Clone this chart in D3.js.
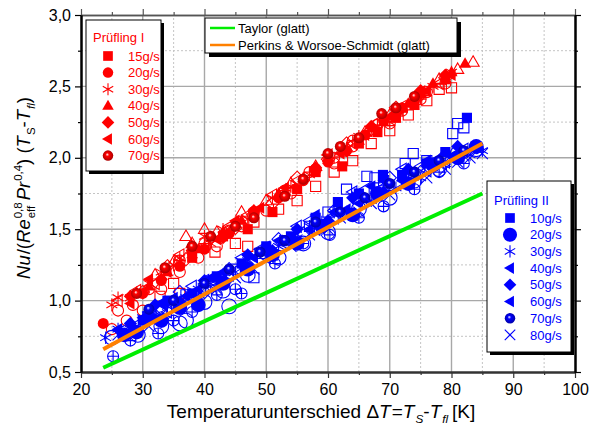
<!DOCTYPE html>
<html>
<head>
<meta charset="utf-8">
<script src="https://cdn.jsdelivr.net/npm/d3@7"></script>
<style>
  body { margin: 0; background: #fff; }
  svg { font-family: "Liberation Sans", Arial, sans-serif; }
</style>
</head>
<body>
<svg id="chart" width="590" height="430"></svg>
<script>
// axis ticks
const X_TICKS = [20, 30, 40, 50, 60, 70, 80, 90, 100];
const X_MINOR = [25, 35, 45, 55, 65, 75, 85, 95];
const Y_TICKS = [0.5, 1.0, 1.5, 2.0, 2.5, 3.0];
const Y_MINOR = [0.75, 1.25, 1.75, 2.25, 2.75];

// correlation lines
const TAYLOR = [[23.6, 0.53], [85, 1.75]];
const PERKINS = [[23.6, 0.66], [85, 2.10]];

// Prüfling I  [dT, value]
const I_LABELS = ['15g/s', '20g/s', '30g/s', '40g/s', '50g/s', '60g/s', '70g/s'];
const I_SHAPES = ['square', 'circle', 'asterisk', 'triUp', 'diamond', 'triLeft', 'sphere'];
const I15_FILLED = [[38, 1.30], [43, 1.45], [47, 1.50], [51, 1.62], [55, 1.78], [58, 1.90], [62.3, 1.94], [65, 2.10], [68, 2.18], [71, 2.28], [74, 2.37], [79, 2.55]];
const I15_OPEN = [[32.8, 1.03], [35, 1.12], [36, 1.05], [41.7, 1.34], [45, 1.40], [47, 1.38], [48, 1.55], [52, 1.64], [55, 1.70], [58, 1.80], [61, 1.90], [64, 1.98], [67, 2.10], [70, 2.19], [73, 2.30], [76, 2.40], [78, 2.48], [80, 2.49]];
const I20_FILLED = [[23.6, 0.84], [30, 1.05], [33, 1.14], [36, 1.24], [40, 1.36], [44, 1.47], [48, 1.60], [52, 1.72], [56, 1.84], [60, 1.97], [63, 2.05], [66, 2.16], [69, 2.26], [72, 2.35], [75, 2.45]];
const I20_OPEN = [[25, 0.80], [26, 0.93], [27.4, 0.86], [28.4, 0.97], [30, 0.93], [33, 1.08], [36, 1.20], [39, 1.30], [42, 1.38], [46, 1.52], [50, 1.63], [54, 1.75], [58, 1.92], [61, 1.96], [64, 2.08], [70, 2.24], [76, 2.46], [79, 2.52]];
const I30_FILLED = [[25, 0.97], [26, 1.02], [28, 1.02], [31, 1.12], [33, 1.20], [35, 1.25], [36, 1.30], [38, 1.32], [40, 1.45], [41, 1.40], [43, 1.50], [45, 1.53], [47, 1.57], [48, 1.62], [51, 1.72], [54, 1.80], [57, 1.88], [60, 1.98], [63, 2.07], [65, 2.15], [67, 2.19], [70, 2.25], [72, 2.34], [75, 2.44], [77, 2.50], [80, 2.60]];
const I30_OPEN = [];
const I40_FILLED = [[31, 1.10], [34, 1.20], [39, 1.36], [43, 1.48], [46, 1.56], [52, 1.75], [56, 1.86], [60, 2.00], [65, 2.12], [69, 2.25], [73, 2.38], [77, 2.52], [80, 2.60], [82.2, 2.66]];
const I40_OPEN = [[29, 1.05], [32, 1.18], [35, 1.27], [37, 1.45], [38, 1.40], [40, 1.50], [42, 1.48], [46, 1.62], [50, 1.70], [54, 1.82], [58, 1.94], [62, 2.04], [66, 2.18], [70, 2.30], [74, 2.42], [78, 2.55], [81, 2.62], [83.5, 2.67]];
const I50_FILLED = [[28, 1.03], [33, 1.15], [38, 1.35], [43, 1.44], [48, 1.63], [53, 1.74], [58, 1.93], [63, 2.05], [67, 2.22], [71, 2.31], [75, 2.47], [79, 2.58]];
const I50_OPEN = [[30, 1.06], [34, 1.24], [37, 1.29], [41, 1.44], [45, 1.51], [51, 1.68], [55, 1.86], [60, 1.99], [63, 2.10], [67, 2.20], [71, 2.35], [75, 2.44], [79, 2.56]];
const I60_FILLED = [[28, 0.98], [31, 1.15], [34, 1.20], [38, 1.34], [42, 1.43], [45, 1.56], [49, 1.65], [53, 1.79], [58, 1.91], [62, 2.03], [66, 2.16], [70, 2.29], [76, 2.47], [80, 2.58]];
const I60_OPEN = [[26, 1.00], [29, 1.07], [32, 1.12], [36, 1.32], [40, 1.38], [44, 1.52], [47, 1.60], [51, 1.74], [55, 1.84], [60, 2.02], [64, 2.10], [68, 2.25], [72, 2.36], [75, 2.46], [78, 2.52]];
const I70_FILLED = [[29, 1.05], [33.6, 1.23], [38, 1.38], [41, 1.45], [45, 1.52], [48, 1.58], [53, 1.73], [56, 1.85], [60, 2.03], [62, 2.08], [65, 2.14], [68.7, 2.31], [71, 2.35], [74, 2.43]];
const I70_OPEN = [[31, 1.08], [36, 1.28], [40, 1.40], [44, 1.49], [48, 1.62], [53, 1.77], [57, 1.90], [61, 2.00], [64, 2.12], [68, 2.23], [72, 2.33], [75, 2.41]];

// Prüfling II
const II_LABELS = ['10g/s', '20g/s', '30g/s', '40g/s', '50g/s', '60g/s', '70g/s', '80g/s'];
const II_SHAPES = ['square', 'bigCircle', 'asterisk', 'triLeft', 'diamond', 'triLeft', 'sphere', 'x'];
const II10_FILLED = [[30, 0.86], [34, 1.00], [38, 1.05], [42, 1.17], [46, 1.26], [50, 1.38], [54, 1.45], [58, 1.58], [61.6, 1.69], [65, 1.75], [68.9, 1.88], [72, 1.88], [76, 1.96], [79, 2.04], [82.5, 2.28]];
const II10_OPEN = [[33, 0.93], [37, 1.04], [41, 1.10], [45, 1.22], [48, 1.16], [49, 1.33], [53, 1.42], [57, 1.52], [60, 1.62], [63, 1.78], [66.3, 1.87], [67.6, 1.86], [69, 1.84], [72.5, 1.96], [73.8, 2.03], [76, 1.98], [80.2, 2.17], [81, 2.24], [82, 2.21]];
const II20_FILLED = [[27, 0.76], [29, 0.78], [31, 0.88], [33, 0.86], [36, 0.95], [39, 0.97], [43, 1.12], [47, 1.22], [51, 1.32], [55, 1.40], [59, 1.52], [64, 1.60], [68, 1.75], [73, 1.82], [77, 1.95], [81, 2.00], [84, 2.08]];
const II20_OPEN = [[25, 0.74], [29.2, 0.76], [33, 0.82], [36, 0.84], [37, 0.86], [40, 0.99], [43, 1.07], [44, 0.96], [47, 1.18], [52, 1.30], [56, 1.40], [60, 1.48], [65, 1.64], [70, 1.72], [74, 1.84], [78, 1.92], [81, 2.03], [84, 2.06]];
const II30_FILLED = [[24, 0.74], [26, 0.80], [28, 0.80], [30, 0.88], [32, 0.90], [34, 0.96], [37, 1.02], [39, 1.08], [41, 1.10], [43, 1.16], [45, 1.20], [47, 1.28], [50, 1.34], [52, 1.38], [55, 1.44], [57, 1.52], [59, 1.55], [61, 1.62], [63, 1.62], [65, 1.72], [67, 1.70], [69, 1.82], [71, 1.79], [73, 1.90], [75, 1.86], [77, 1.94], [79, 1.96], [81, 2.00], [83, 2.02], [85, 2.05]];
const II30_OPEN = [];
const II40_FILLED = [[26, 0.80], [31, 0.90], [35, 1.02], [39, 1.08], [43, 1.20], [48, 1.30], [52, 1.42], [57, 1.50], [61, 1.62], [65, 1.68], [69, 1.84], [74, 1.88], [78, 2.00], [82, 2.04]];
const II40_OPEN = [[29, 0.83], [33, 0.98], [35, 0.96], [40, 1.14], [44, 1.18], [49, 1.36], [53, 1.40], [57, 1.56], [61, 1.58], [66, 1.78], [70, 1.80], [75, 1.94], [79, 1.97]];
const II50_FILLED = [[28, 0.84], [32, 0.97], [36, 0.99], [40, 1.14], [43, 1.13], [47, 1.32], [51, 1.35], [55, 1.50], [60, 1.56], [64, 1.72], [69, 1.76], [73, 1.92], [77, 1.94], [81, 2.08], [84, 2.07]];
const II50_OPEN = [[32, 0.88], [36, 1.06], [40, 1.06], [44, 1.22], [47, 1.25], [52, 1.43], [56, 1.47], [61, 1.63], [66, 1.69], [70, 1.86], [75, 1.90], [79, 2.02]];
const II60_FILLED = [[30, 0.88], [33, 0.98], [37, 1.03], [41, 1.16], [46, 1.24], [50, 1.38], [54, 1.44], [58, 1.60], [63, 1.64], [67, 1.80], [72, 1.84], [76, 1.98], [80, 2.01]];
const II60_OPEN = [[27, 0.80], [31, 0.92], [34, 0.92], [38, 1.10], [42, 1.12], [46, 1.30], [50, 1.30], [55, 1.52], [58, 1.50], [64, 1.76], [68, 1.74], [72, 1.92], [76, 1.91], [82, 2.06]];
const II70_FILLED = [[31, 0.94], [35, 1.00], [40, 1.12], [44, 1.22], [49, 1.34], [53, 1.42], [58, 1.55], [62, 1.62], [66, 1.72], [70, 1.82], [74, 1.90], [78, 1.98], [82, 2.05]];
const II70_OPEN = [[25.2, 0.61], [28, 0.72], [32.5, 0.77], [35, 0.86], [38, 0.92], [42, 1.04], [45, 1.08], [46, 1.05], [51.4, 1.26], [56, 1.40], [60.3, 1.46], [65, 1.58], [69, 1.66], [74, 1.78], [78, 1.90], [82, 1.96]];
const II80_FILLED = [[26, 0.76], [28, 0.80], [31, 0.82], [33, 0.90], [36, 0.96], [39, 1.04], [42, 1.08], [45, 1.16], [48, 1.22], [51, 1.32], [54, 1.38], [57, 1.46], [60, 1.50], [62, 1.58], [65, 1.62], [67, 1.68], [70, 1.74], [73, 1.82], [76, 1.86], [79, 1.92], [81, 1.97], [83, 2.00], [84, 2.07], [85, 2.03]];
const II80_OPEN = [];

const RED = '#ff0000', BLUE = '#0000ff', GREEN = '#00ee00', ORANGE = '#ff8000';

const svg = d3.select('#chart');
const x = d3.scaleLinear().domain([20, 100]).range([81, 575]);
const y = d3.scaleLinear().domain([0.5, 3.0]).range([372, 15]);
const comma = d => d3.format('.1f')(d).replace('.', ',');

// sphere gradients
const defs = svg.append('defs');
[['sphere-red', RED, '#a00000'], ['sphere-blue', BLUE, '#0000a0']].forEach(([id, c, dark]) => {
  const g = defs.append('radialGradient').attr('id', id)
    .attr('cx', '50%').attr('cy', '50%').attr('r', '55%').attr('fx', '42%').attr('fy', '38%');
  g.append('stop').attr('offset', '0%').attr('stop-color', '#ffffff');
  g.append('stop').attr('offset', '30%').attr('stop-color', c);
  g.append('stop').attr('offset', '100%').attr('stop-color', dark);
});

// grid
const grid = svg.append('g');
grid.selectAll('.vmin').data(X_MINOR).enter().append('line')
  .attr('x1', d => x(d)).attr('x2', d => x(d)).attr('y1', y(0.5)).attr('y2', y(3))
  .attr('stroke', '#c4c4c4').attr('stroke-dasharray', '2,2');
grid.selectAll('.hmin').data(Y_MINOR).enter().append('line')
  .attr('y1', d => y(d)).attr('y2', d => y(d)).attr('x1', x(20)).attr('x2', x(100))
  .attr('stroke', '#c4c4c4').attr('stroke-dasharray', '2,2');
grid.selectAll('.vmaj').data(X_TICKS.slice(1, -1)).enter().append('line')
  .attr('x1', d => x(d)).attr('x2', d => x(d)).attr('y1', y(0.5)).attr('y2', y(3))
  .attr('stroke', '#a8a8a8').attr('stroke-width', 1.4);
grid.selectAll('.hmaj').data(Y_TICKS.slice(1, -1)).enter().append('line')
  .attr('y1', d => y(d)).attr('y2', d => y(d)).attr('x1', x(20)).attr('x2', x(100))
  .attr('stroke', '#a8a8a8').attr('stroke-width', 1.4);

// markers
function shapePath(kind, s) {
  const r = s / 2;
  switch (kind) {
    case 'square': return d3.symbol(d3.symbolSquare, s * s * 0.85)();
    case 'circle':
    case 'sphere': return d3.symbol(d3.symbolCircle, Math.PI * r * r)();
    case 'bigCircle': return d3.symbol(d3.symbolCircle, Math.PI * r * r * 1.8)();
    case 'diamond': return `M0,${-r * 1.2}L${r * 1.2},0L0,${r * 1.2}L${-r * 1.2},0Z`;
    case 'triUp': return `M0,${-r * 1.15}L${r * 1.1},${r * 0.75}L${-r * 1.1},${r * 0.75}Z`;
    case 'triLeft': return `M${-r * 1.15},0L${r * 0.75},${-r * 1.1}L${r * 0.75},${r * 1.1}Z`;
    case 'asterisk': {
      let p = '';
      [90, 30, 150].forEach(a => {
        const t = a * Math.PI / 180, dx = r * 1.15 * Math.cos(t), dy = r * 1.15 * Math.sin(t);
        p += `M${-dx},${-dy}L${dx},${dy}`;
      });
      return p;
    }
    case 'x': return `M${-r},${-r}L${r},${r}M${-r},${r}L${r},${-r}`;
  }
}

function drawMarker(sel, kind, color, open, s) {
  const stroked = kind === 'asterisk' || kind === 'x';
  const p = sel.append('path').attr('d', shapePath(kind, s));
  if (stroked) {
    p.attr('fill', 'none').attr('stroke', color).attr('stroke-width', 1.1);
  } else if (open) {
    p.attr('fill', 'none').attr('stroke', color).attr('stroke-width', 1.1);
    if (kind === 'sphere') {
      const r = s / 2;
      sel.append('path').attr('d', `M${-r},0L${r},0M0,${-r}L0,${r}`)
        .attr('stroke', color).attr('stroke-width', 1.1);
    }
  } else {
    p.attr('fill', kind === 'sphere' ? `url(#sphere-${color === RED ? 'red' : 'blue'})` : color)
      .attr('stroke', 'none');
  }
}

function drawSeries(filled, open, kind, color) {
  const g = svg.append('g');
  [[open, true], [filled, false]].forEach(([pts, isOpen]) => {
    g.selectAll(null).data(pts).enter().append('g')
      .attr('transform', d => `translate(${x(d[0])},${y(d[1])})`)
      .each(function () { drawMarker(d3.select(this), kind, color, isOpen, 11); });
  });
}

const I_DATA = [[I15_FILLED, I15_OPEN], [I20_FILLED, I20_OPEN], [I30_FILLED, I30_OPEN], [I40_FILLED, I40_OPEN],
  [I50_FILLED, I50_OPEN], [I60_FILLED, I60_OPEN], [I70_FILLED, I70_OPEN]];
const II_DATA = [[II10_FILLED, II10_OPEN], [II20_FILLED, II20_OPEN], [II30_FILLED, II30_OPEN], [II40_FILLED, II40_OPEN],
  [II50_FILLED, II50_OPEN], [II60_FILLED, II60_OPEN], [II70_FILLED, II70_OPEN], [II80_FILLED, II80_OPEN]];

I_DATA.forEach((d, i) => drawSeries(d[0], d[1], I_SHAPES[i], RED));
II_DATA.forEach((d, i) => drawSeries(d[0], d[1], II_SHAPES[i], BLUE));

// correlation lines
const line = d3.line().x(d => x(d[0])).y(d => y(d[1]));
svg.append('path').datum(TAYLOR).attr('d', line).attr('fill', 'none').attr('stroke', GREEN).attr('stroke-width', 4);
svg.append('path').datum(PERKINS).attr('d', line).attr('fill', 'none').attr('stroke', ORANGE).attr('stroke-width', 4);

// axes
function styleAxis(g, color, width) {
  g.select('.domain').attr('stroke', color).attr('stroke-width', width);
  g.selectAll('.tick line').attr('stroke', color).attr('stroke-width', 1.2);
  g.selectAll('.tick text').attr('fill', '#000').attr('font-size', 16).attr('font-family', '"Liberation Sans", Arial, sans-serif');
}
const minorAxis = (axis, vals) => axis.tickValues(vals).tickSize(3).tickSizeOuter(0).tickFormat('');

svg.append('g').attr('transform', `translate(0,${y(0.5)})`).call(minorAxis(d3.axisBottom(x), X_MINOR)).call(g => styleAxis(g, '#333', 2));
svg.append('g').attr('transform', `translate(0,${y(0.5)})`)
  .call(d3.axisBottom(x).tickValues(X_TICKS).tickSize(6).tickSizeOuter(0).tickPadding(6))
  .call(g => styleAxis(g, '#333', 2));
svg.append('g').attr('transform', `translate(0,${y(3)})`).call(minorAxis(d3.axisTop(x), X_MINOR)).call(g => styleAxis(g, '#555', 1.5));
svg.append('g').attr('transform', `translate(0,${y(3)})`)
  .call(d3.axisTop(x).tickValues(X_TICKS).tickSize(6).tickSizeOuter(0).tickFormat(''))
  .call(g => styleAxis(g, '#555', 1.5));

svg.append('g').attr('transform', `translate(${x(20)},0)`).call(minorAxis(d3.axisLeft(y), Y_MINOR)).call(g => styleAxis(g, '#000', 2));
svg.append('g').attr('transform', `translate(${x(20)},0)`)
  .call(d3.axisLeft(y).tickValues(Y_TICKS).tickSize(6).tickSizeOuter(0).tickPadding(4).tickFormat(comma))
  .call(g => styleAxis(g, '#000', 2));
svg.append('g').attr('transform', `translate(${x(100)},0)`).call(minorAxis(d3.axisRight(y), Y_MINOR)).call(g => styleAxis(g, '#000', 2));
svg.append('g').attr('transform', `translate(${x(100)},0)`)
  .call(d3.axisRight(y).tickValues(Y_TICKS).tickSize(6).tickSizeOuter(0).tickFormat(''))
  .call(g => styleAxis(g, '#000', 2));

// rich text helper: pieces {t, it, sup, sub, stack}
function richText(parent, pieces, size) {
  const g = parent.append('g');
  let cx = 0;
  pieces.forEach(p => {
    const small = size * 0.62;
    if (p.stack) {
      const a = g.append('text').attr('x', cx).attr('y', -size * 0.42).attr('font-size', small).text(p.t);
      const b = g.append('text').attr('x', cx).attr('y', size * 0.28).attr('font-size', small).text(p.stack);
      cx += Math.max(a.node().getComputedTextLength(), b.node().getComputedTextLength()) + 2;
      return;
    }
    const t = g.append('text').attr('x', cx).attr('font-size', p.sup || p.sub ? small : size).text(p.t);
    if (p.it) t.attr('font-style', 'italic');
    if (p.sup) t.attr('y', -size * 0.42);
    if (p.sub) t.attr('y', size * 0.28);
    cx += t.node().getComputedTextLength() + (p.it && !p.sub ? 1 : 0);
  });
  return { g, width: cx };
}

const xt = svg.append('g').attr('transform', 'translate(321,418)');
const xr = richText(xt, [
  { t: 'Temperaturunterschied \u0394' }, { t: 'T', it: true }, { t: '=' }, { t: 'T', it: true }, { t: 'S', it: true, sub: true },
  { t: '-' }, { t: 'T', it: true }, { t: 'fl', it: true, sub: true }, { t: '\u2009[K]' }], 19);
xr.g.attr('transform', `translate(${-xr.width / 2},0)`);

const yt = svg.append('g').attr('transform', 'translate(30,188) rotate(-90)');
const yr = richText(yt, [
  { t: 'Nu', it: true }, { t: '/(' }, { t: 'Re', it: true }, { t: '0,8', stack: 'eff' }, { t: ' ' }, { t: 'Pr', it: true },
  { t: '0,4', sup: true }, { t: ') (' }, { t: 'T', it: true }, { t: 'S', sub: true }, { t: '-' }, { t: 'T', it: true },
  { t: 'fl', it: true, sub: true }, { t: ')' }], 18.5);
yr.g.attr('transform', `translate(${-yr.width / 2},0)`);

// legends
function legendBox(x0, y0, w, h, sh) {
  svg.append('rect').attr('x', x0 + sh).attr('y', y0 + sh).attr('width', w).attr('height', h).attr('fill', '#000');
  svg.append('rect').attr('x', x0).attr('y', y0).attr('width', w).attr('height', h)
    .attr('fill', '#fff').attr('stroke', '#000').attr('stroke-width', 1);
}

function symbolLegend(x0, y0, w, h, title, labels, shapes, color, titleY, firstY, step, symX, textX) {
  legendBox(x0, y0, w, h, 3);
  svg.append('text').attr('x', x0 + 7).attr('y', titleY).attr('font-size', 13).attr('fill', color).text(title);
  labels.forEach((lab, i) => {
    const cy = firstY + i * step;
    const g = svg.append('g').attr('transform', `translate(${symX},${cy})`);
    drawMarker(g, shapes[i], color, false, 10.5);
    svg.append('text').attr('x', textX).attr('y', cy + 4.6).attr('font-size', 13).attr('fill', color).text(lab);
  });
}

symbolLegend(86, 20, 75, 151, 'Prüfling I', I_LABELS, I_SHAPES, RED, 42, 56, 16.6, 108, 128);
symbolLegend(487, 181, 84, 171, 'Prüfling II', II_LABELS, II_SHAPES, BLUE, 205, 218, 16.7, 510, 530);

legendBox(205, 18, 252, 35, 4);
[['Taylor (glatt)', GREEN, 28], ['Perkins & Worsoe-Schmidt (glatt)', ORANGE, 45]].forEach(([lab, c, cy]) => {
  svg.append('line').attr('x1', 210).attr('x2', 235).attr('y1', cy).attr('y2', cy).attr('stroke', c).attr('stroke-width', 2.5);
  svg.append('text').attr('x', 238).attr('y', cy + 4.6).attr('font-size', 13).text(lab);
});
</script>
</body>
</html>
